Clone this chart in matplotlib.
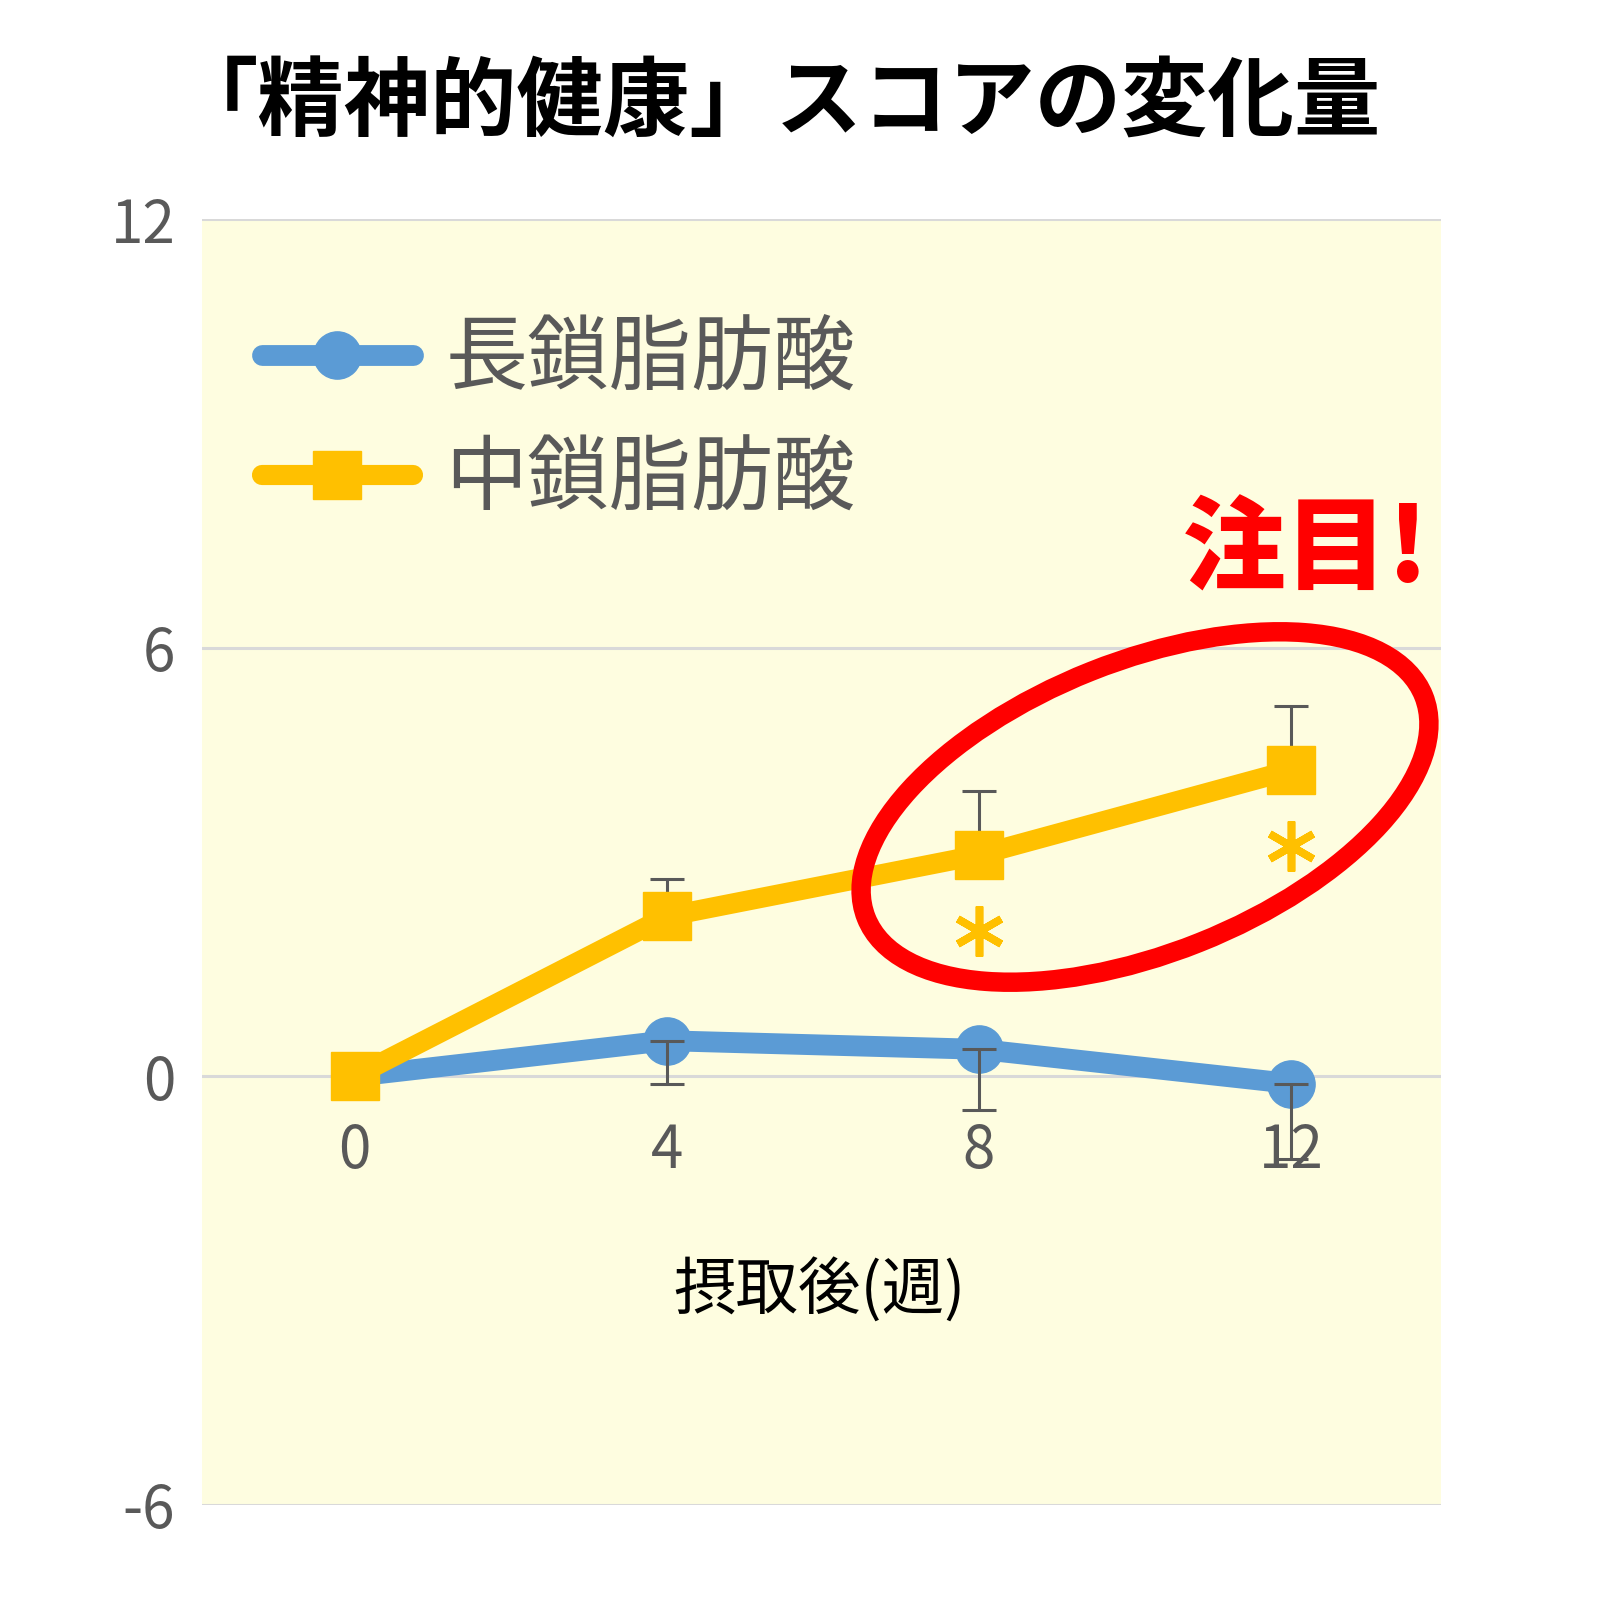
import matplotlib
matplotlib.use("Agg")
import matplotlib.pyplot as plt
from matplotlib.patches import Ellipse
from matplotlib.transforms import ScaledTranslation
import numpy as np

plt.rcParams['font.family'] = ['Noto Sans CJK JP', 'DejaVu Sans']

# ---- data ----
weeks = [0, 4, 8, 12]
week_labels = ["0", "4", "8", "12"]
long_chain = [0.0, 0.50, 0.38, -0.10]
long_chain_err_down = [0.0, 0.61, 0.85, 1.05]
medium_chain = [0.0, 2.24, 3.10, 4.29]
medium_chain_err_up = [0.0, 0.52, 0.89, 0.90]
significant = [False, False, True, True]
y_ticks = [12, 6, 0, -6]
series_names = ["長鎖脂肪酸", "中鎖脂肪酸"]
title = "「精神的健康」スコアの変化量"
xlabel = "摂取後(週)"
note = "注目!"

BLUE = "#5B9BD5"
YELLOW = "#FFC000"
GRAY = "#595959"
BG = "#FEFDE0"

fig = plt.figure(figsize=(16, 16), dpi=100)
fig.patch.set_facecolor("white")
ax = fig.add_axes([0.126, 0.0594, 0.9006 - 0.126, 0.8629 - 0.0594])
ax.set_facecolor(BG)
ax.set_xlim(-1.96, 13.92)
ax.set_ylim(-6, 12)

for s in ax.spines.values():
    s.set_visible(False)
ax.spines['bottom'].set_position(('data', 0))

ax.set_yticks(y_ticks)
ax.set_yticklabels([str(v) for v in y_ticks])
ax.tick_params(axis='y', length=0, pad=19, labelsize=42, labelcolor=GRAY)
ax.set_xticks(weeks)
ax.set_xticklabels(week_labels)
ax.tick_params(axis='x', length=0, pad=32, labelsize=42, labelcolor=GRAY)
for yv in y_ticks:
    ax.axhline(yv, color="#D9D9D9", lw=2.2, zorder=1)

# error bars
x = np.array(weeks)
lc = np.array(long_chain)
mc = np.array(medium_chain)
led = np.array(long_chain_err_down)
meu = np.array(medium_chain_err_up)
mask_l = led > 0
mask_m = meu > 0
ax.errorbar(x[mask_l], lc[mask_l], yerr=[led[mask_l], np.zeros(mask_l.sum())],
            fmt='none', ecolor=GRAY, elinewidth=2.2, capsize=12, capthick=2.2, zorder=4)
ax.errorbar(x[mask_m], mc[mask_m], yerr=[np.zeros(mask_m.sum()), meu[mask_m]],
            fmt='none', ecolor=GRAY, elinewidth=2.2, capsize=12, capthick=2.2, zorder=2.5)

l1, = ax.plot(x, lc, color=BLUE, lw=15, marker='o', markersize=34,
              solid_capstyle='round', zorder=3, label=series_names[0])
l2, = ax.plot(x, mc, color=YELLOW, lw=14.5, marker='s', markersize=34,
              solid_capstyle='round', zorder=3.2, label=series_names[1])

# significance asterisks below the medium-chain markers (6 arms, vertical)
sig = np.array(significant)
ast_trans = ax.transData + ScaledTranslation(0, -0.76, fig.dpi_scale_trans)
ax.plot(x[sig], mc[sig], linestyle='none', marker=(6, 2, 0), markersize=36,
        markeredgewidth=5.5, color=YELLOW, transform=ast_trans, zorder=5)

leg = ax.legend(handles=[l1, l2], loc='upper left',
                bbox_to_anchor=(262 / 1600, 1 - 318 / 1600), bbox_transform=fig.transFigure,
                frameon=False, fontsize=59, handlelength=1.84, handletextpad=0.40,
                labelspacing=0.42, borderpad=0, borderaxespad=0)
for t in leg.get_texts():
    t.set_color(GRAY)

fig.text(0.4854, 1 - 104 / 1600, title, ha='center', va='center',
         fontsize=62.2, fontweight='bold', color='black')
fig.text(0.512, 1 - 1291 / 1600, xlabel, ha='center', va='center',
         fontsize=45, color='black')
fig.text(0.816, 1 - 552 / 1600, note, ha='center', va='center',
         fontsize=74, fontweight='black', color='#FF0000')

ell = Ellipse((1145 / 1600, 1 - 807 / 1600), width=600 / 1600, height=292 / 1600,
              angle=21.7, transform=fig.transFigure, fill=False,
              edgecolor='#FF0000', lw=14, zorder=10)
fig.add_artist(ell)

fig.savefig("out.png", dpi=100, facecolor="white")
